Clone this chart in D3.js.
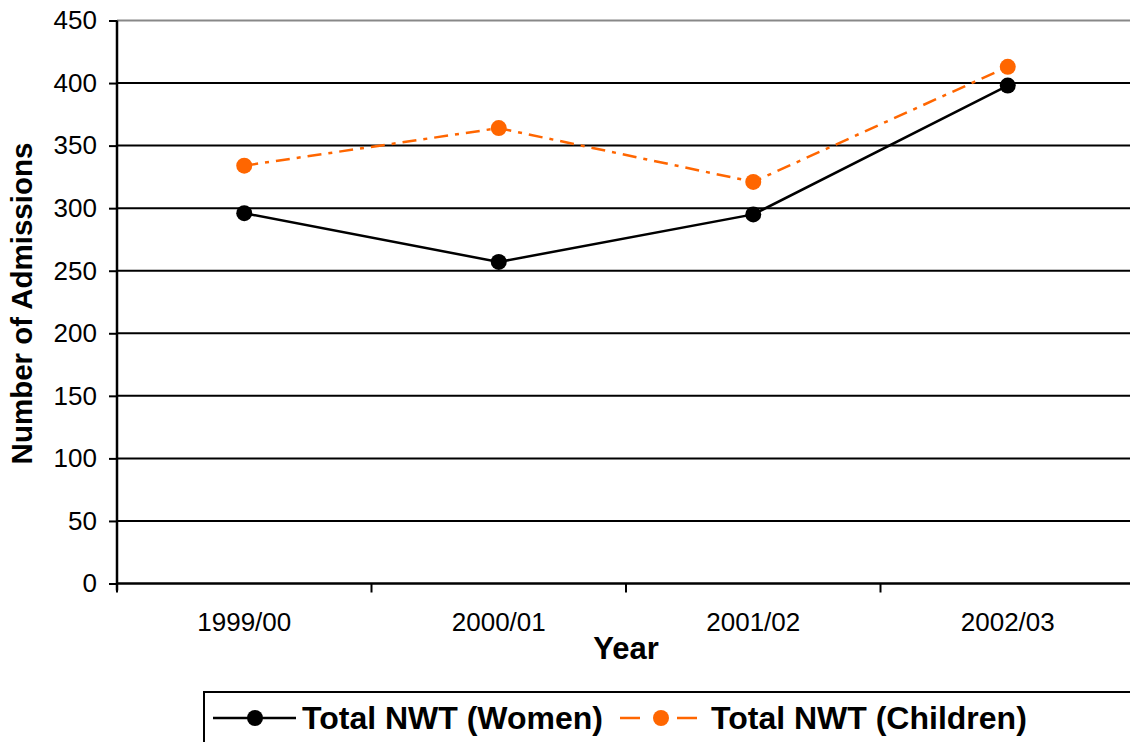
<!DOCTYPE html>
<html>
<head>
<meta charset="utf-8">
<script src="https://cdn.jsdelivr.net/npm/d3@7"></script>
<style>
  body { margin: 0; background: #fff; }
  svg { display: block; font-family: "Liberation Sans", Arial, sans-serif; }
</style>
</head>
<body>
<div id="chart"></div>
<script>
const years = ['1999/00', '2000/01', '2001/02', '2002/03'];
const women = [296, 257, 295, 398];
const children = [334, 364, 321, 413];
const yTicks = [0, 50, 100, 150, 200, 250, 300, 350, 400, 450];

const W = 1130, H = 742;
const plotLeft = 117, plotTop = 20.5, plotBottom = 583.5, plotRight = 117 + 4 * 254.5;

const svg = d3.select('#chart').append('svg')
    .attr('width', W)
    .attr('height', H);

const x = d3.scaleBand()
    .domain(years)
    .range([plotLeft, plotRight]);

const y = d3.scaleLinear()
    .domain([0, 450])
    .range([plotBottom, plotTop]);

// gridlines
svg.append('g')
    .selectAll('line')
    .data(yTicks.filter(d => d > 0))
    .enter().append('line')
    .attr('x1', plotLeft)
    .attr('x2', W)
    .attr('y1', d => y(d))
    .attr('y2', d => y(d))
    .attr('stroke', d => d === 450 ? '#888' : '#000')
    .attr('stroke-width', 2);

// y axis
const yAxis = svg.append('g')
    .attr('transform', `translate(${plotLeft},0)`)
    .call(d3.axisLeft(y).tickValues(yTicks).tickSize(8).tickPadding(12));
yAxis.select('.domain').attr('stroke-width', 2.5).attr('d', `M0,${plotTop}V${plotBottom + 7}`);
yAxis.selectAll('.tick line').attr('stroke-width', 2);
yAxis.selectAll('.tick text')
    .attr('font-size', 26)
    .attr('font-family', '"Liberation Sans", Arial, sans-serif')
    .attr('fill', '#000');

// x axis
const xAxis = svg.append('g')
    .attr('transform', `translate(0,${plotBottom})`)
    .call(d3.axisBottom(x).tickSize(0).tickPadding(29));
xAxis.select('.domain').attr('stroke-width', 2.5).attr('d', `M${plotLeft},0H${W}`);
xAxis.selectAll('.tick text')
    .attr('font-size', 26)
    .attr('font-family', '"Liberation Sans", Arial, sans-serif')
    .attr('fill', '#000');
svg.append('g')
    .selectAll('line')
    .data(years)
    .enter().append('line')
    .attr('x1', d => x(d))
    .attr('x2', d => x(d))
    .attr('y1', plotBottom)
    .attr('y2', plotBottom + 9)
    .attr('stroke', '#000')
    .attr('stroke-width', 2);

// axis titles
svg.append('text')
    .attr('x', (plotLeft + plotRight) / 2)
    .attr('y', 659)
    .attr('text-anchor', 'middle')
    .attr('font-size', 31)
    .attr('font-weight', 'bold')
    .text('Year');

svg.append('text')
    .attr('transform', `translate(32,${(145 + 462) / 2}) rotate(-90)`)
    .attr('text-anchor', 'middle')
    .attr('font-size', 29.5)
    .attr('font-weight', 'bold')
    .text('Number of Admissions');

// series
const line = d3.line()
    .x((d, i) => x(years[i]) + x.bandwidth() / 2)
    .y(d => y(d));

svg.append('path')
    .datum(children)
    .attr('fill', 'none')
    .attr('stroke', '#ff6600')
    .attr('stroke-width', 2.5)
    .attr('stroke-dasharray', '14,7,4,7')
    .attr('d', line);

svg.selectAll('.dot-c')
    .data(children)
    .enter().append('circle')
    .attr('class', 'dot-c')
    .attr('cx', (d, i) => x(years[i]) + x.bandwidth() / 2)
    .attr('cy', d => y(d))
    .attr('r', 8)
    .attr('fill', '#ff6600');

svg.append('path')
    .datum(women)
    .attr('fill', 'none')
    .attr('stroke', '#000')
    .attr('stroke-width', 2.5)
    .attr('d', line);

svg.selectAll('.dot-w')
    .data(women)
    .enter().append('circle')
    .attr('class', 'dot-w')
    .attr('cx', (d, i) => x(years[i]) + x.bandwidth() / 2)
    .attr('cy', d => y(d))
    .attr('r', 8)
    .attr('fill', '#000');

// legend
const legend = svg.append('g');
legend.append('rect')
    .attr('x', 204)
    .attr('y', 692)
    .attr('width', 1000)
    .attr('height', 100)
    .attr('fill', 'none')
    .attr('stroke', '#000')
    .attr('stroke-width', 2);

const ly = 718;
legend.append('line')
    .attr('x1', 213).attr('x2', 296)
    .attr('y1', ly).attr('y2', ly)
    .attr('stroke', '#000').attr('stroke-width', 2.5);
legend.append('circle')
    .attr('cx', 255).attr('cy', ly).attr('r', 8).attr('fill', '#000');
legend.append('text')
    .attr('x', 302).attr('y', ly + 11)
    .attr('font-size', 32).attr('font-weight', 'bold')
    .text('Total NWT (Women)');

legend.append('line')
    .attr('x1', 620).attr('x2', 697)
    .attr('y1', ly).attr('y2', ly)
    .attr('stroke', '#ff6600').attr('stroke-width', 2.5)
    .attr('stroke-dasharray', '20,37');
legend.append('circle')
    .attr('cx', 661).attr('cy', ly).attr('r', 8).attr('fill', '#ff6600');
legend.append('text')
    .attr('x', 711).attr('y', ly + 11)
    .attr('font-size', 32).attr('font-weight', 'bold')
    .text('Total NWT (Children)');
</script>
</body>
</html>
